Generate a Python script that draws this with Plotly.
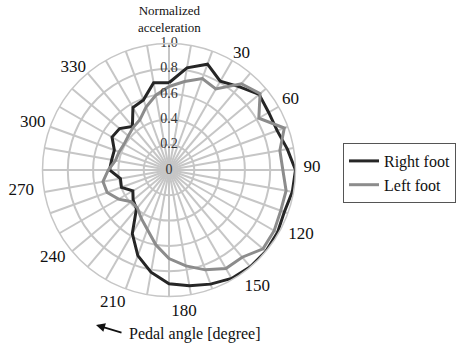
import plotly.graph_objects as go

# ---- data ----
pedal_angle = list(range(0, 360, 10))
right_foot = [0.69, 0.82, 0.89, 0.81, 0.86, 0.93, 0.91, 0.91, 0.95, 1.00,
              0.99, 0.97, 0.99, 1.00, 1.00, 0.99, 0.96, 0.93, 0.90, 0.82,
              0.72, 0.58, 0.40, 0.37, 0.33, 0.40, 0.39, 0.47, 0.46, 0.46,
              0.52, 0.51, 0.45, 0.57, 0.59, 0.70]
left_foot = [0.66, 0.71, 0.77, 0.74, 0.89, 0.94, 0.82, 0.97, 0.89, 0.90,
             0.94, 0.94, 0.96, 0.97, 0.90, 0.90, 0.84, 0.77, 0.70, 0.60,
             0.50, 0.44, 0.39, 0.39, 0.46, 0.52, 0.53, 0.48, 0.43, 0.42,
             0.41, 0.42, 0.44, 0.46, 0.53, 0.60]
radial_ticks = [0, 0.2, 0.4, 0.6, 0.8, 1.0]
radial_ticktext = ["0", "0.2", "0.4", "0.6", "0.8", "1.0"]
angle_labels = ["30", "60", "90", "120", "150", "180", "210", "240", "270", "300", "330"]

# ---- layout positions of the angle labels (as placed in the original) ----
label_theta = [32, 60, 89, 116, 143, 174, 203, 233, 262, 289, 317]
label_r = [1.08, 1.11, 1.13, 1.16, 1.16, 1.13, 1.14, 1.15, 1.18, 1.14, 1.11]

FONT = "Liberation Serif"
W, H = 459, 343
GRID = "#c6c6c6"
CX, CY, R = 169, 170, 126.5      # pixel centre / radius of the polar plot
OUTER = 1.25                     # radial range of the label layer

fig = go.Figure()
fig.add_trace(go.Scatterpolar(
    r=right_foot + right_foot[:1], theta=pedal_angle + pedal_angle[:1],
    mode="lines", name="Right foot", line=dict(color="#262626", width=3)))
fig.add_trace(go.Scatterpolar(
    r=left_foot + left_foot[:1], theta=pedal_angle + pedal_angle[:1],
    mode="lines", name="Left foot", line=dict(color="#8c8c8c", width=3)))

# radial tick labels on the vertical spoke
fig.add_trace(go.Scatterpolar(
    r=radial_ticks, theta=[0] * len(radial_ticks), mode="text",
    text=radial_ticktext, textposition="middle center",
    textfont=dict(family=FONT, size=14, color="#333333"),
    showlegend=False, hoverinfo="skip", cliponaxis=False))

# angle labels on a larger, invisible polar layer sharing the same centre
fig.add_trace(go.Scatterpolar(
    r=label_r, theta=label_theta, mode="text", text=angle_labels,
    textposition="middle center", subplot="polar2",
    textfont=dict(family=FONT, size=17, color="#111111"),
    showlegend=False, hoverinfo="skip", cliponaxis=False))

R2 = R * OUTER
fig.update_layout(
    width=W, height=H, autosize=False,
    margin=dict(l=0, r=0, t=0, b=0),
    paper_bgcolor="white",
    font=dict(family=FONT, color="#111111"),
    polar=dict(
        domain=dict(x=[(CX - R) / W, (CX + R) / W],
                    y=[1 - (CY + R) / H, 1 - (CY - R) / H]),
        bgcolor="white",
        angularaxis=dict(
            rotation=90, direction="clockwise",
            tickmode="array", tickvals=pedal_angle,
            showticklabels=False, ticks="",
            gridcolor=GRID, gridwidth=1.5,
            showline=True, linecolor=GRID, linewidth=1.5),
        radialaxis=dict(
            range=[0, 1], tickmode="array", tickvals=radial_ticks,
            showticklabels=False, ticks="", showline=False,
            gridcolor=GRID, gridwidth=1.5),
    ),
    polar2=dict(
        domain=dict(x=[(CX - R2) / W, (CX + R2) / W],
                    y=[1 - (CY + R2) / H, 1 - (CY - R2) / H]),
        bgcolor="rgba(0,0,0,0)",
        angularaxis=dict(rotation=90, direction="clockwise",
                         showgrid=False, showline=False,
                         showticklabels=False, ticks=""),
        radialaxis=dict(range=[0, OUTER], showgrid=False, showline=False,
                        showticklabels=False, ticks=""),
    ),
    legend=dict(
        x=343 / W, y=1 - 143 / H, xanchor="left", yanchor="top",
        bordercolor="#555555", borderwidth=1, bgcolor="white",
        font=dict(family=FONT, size=16, color="#111111"),
        tracegroupgap=0),
    annotations=[
        dict(text="Normalized<br>acceleration", x=169 / W, y=1 - 19 / H,
             xref="paper", yref="paper", showarrow=False,
             font=dict(family=FONT, size=13, color="#111111"),
             xanchor="center", yanchor="middle"),
        dict(text="Pedal angle [degree]", x=127 / W, y=1 - 334 / H,
             xref="paper", yref="paper", showarrow=False,
             font=dict(family=FONT, size=16, color="#111111"),
             xanchor="left", yanchor="middle"),
        dict(text="", x=96 / W, y=1 - 325 / H, xref="paper", yref="paper",
             showarrow=True, ax=27, ay=8, arrowhead=2, arrowsize=1,
             arrowwidth=1.8, arrowcolor="#111111"),
    ],
)

fig.write_html("out.html",
               config={"displayModeBar": False},
               post_script="document.body.style.margin='0';")
